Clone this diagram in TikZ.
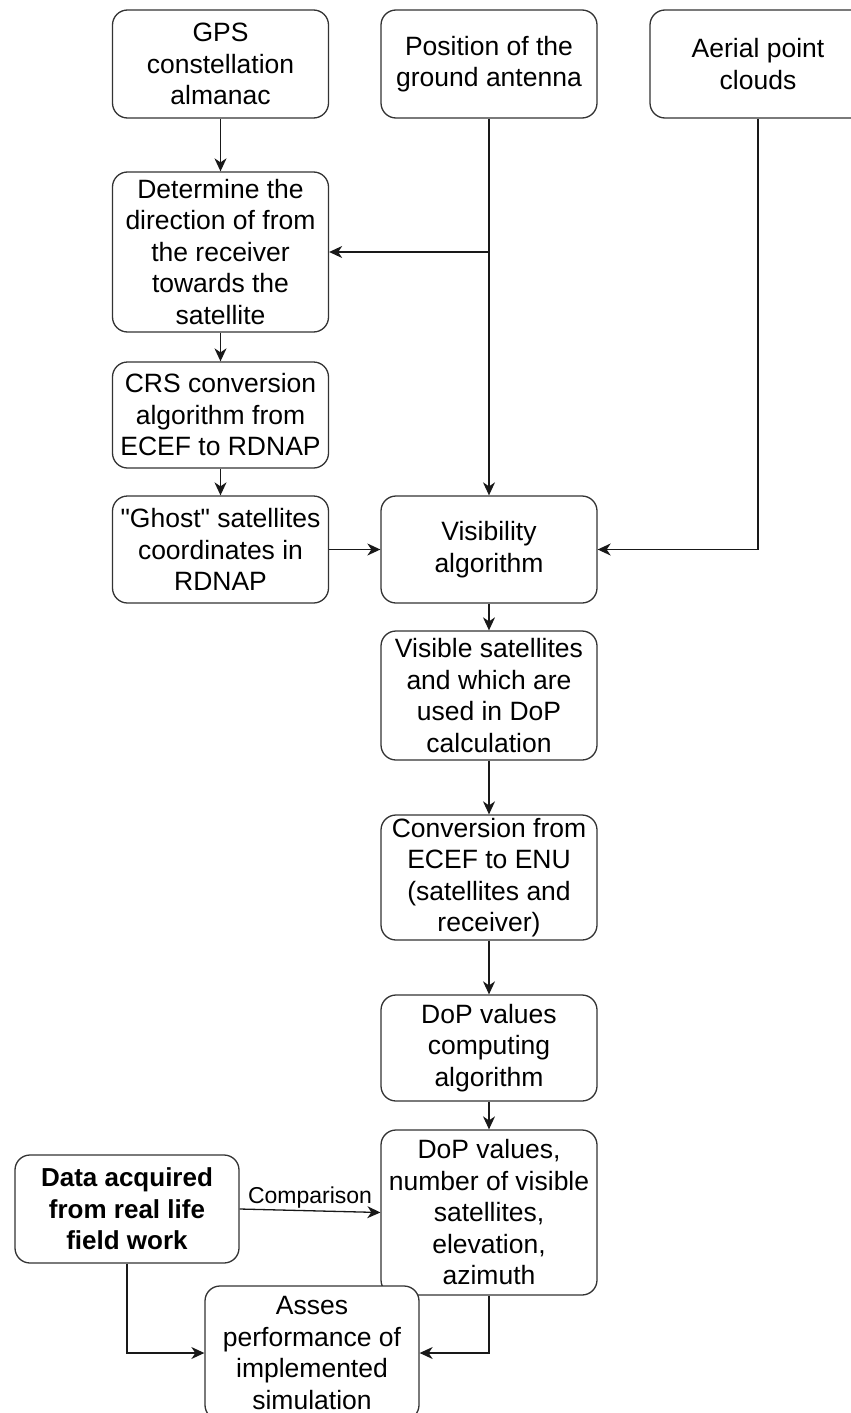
\documentclass[tikz,border=0pt]{standalone}
\usepackage{fontspec}
\setmainfont{Liberation Sans}[Ligatures=TeXReset]
\usetikzlibrary{arrows.meta}
\begin{document}
\begin{tikzpicture}[x=1pt,y=-1pt,
  box/.style={draw=black!80,line width=1.3pt,rounded corners=15pt,fill=white,
    align=center,inner sep=0pt,minimum width=216pt,
    font=\fontsize{26.5}{31.5}\selectfont},
  arr/.style={draw=black!90,line width=1.3pt,-{Stealth[length=13pt,width=12pt,inset=4pt]}},
  ln/.style={draw=black!90,line width=1.3pt}]
\useasboundingbox (0,0) rectangle (851,1413);
\node[box,minimum height=108pt] (gps) at (220.5,64) {GPS\\constellation\\almanac};
\node[box,minimum height=108pt] (pos) at (489,64) {Position of the\\ground antenna};
\node[box,minimum height=108pt] (aer) at (758,64) {Aerial point\\clouds};
\node[box,minimum height=160pt] (det) at (220.5,252) {Determine the\\direction of from\\the receiver\\towards the\\satellite};
\node[box,minimum height=106pt] (crs) at (220.5,415) {CRS conversion\\algorithm from\\ECEF to RDNAP};
\node[box,minimum height=107pt] (gho) at (220.5,549.5) {"Ghost" satellites\\coordinates in\\RDNAP};
\node[box,minimum height=107pt] (vis) at (489,549.5) {Visibility\\algorithm};
\node[box,minimum height=129pt] (vsat) at (489,695.5) {Visible satellites\\and which are\\used in DoP\\calculation};
\node[box,minimum height=125pt] (conv) at (489,877.5) {Conversion from\\ECEF to ENU\\(satellites and\\receiver)};
\node[box,minimum height=106pt] (dopc) at (489,1048) {DoP values\\computing\\algorithm};
\node[box,minimum height=165pt] (dopv) at (489,1212.5) {DoP values,\\number of visible\\satellites,\\elevation,\\azimuth};
\node[box,minimum width=224pt,minimum height=108pt,font=\fontsize{26}{31.5}\selectfont\bfseries] (data) at (127,1209) {Data acquired\\from real life\\field work};
\node[box,minimum width=214pt,minimum height=134pt] (ass) at (312,1353) {Asses\\performance of\\implemented\\simulation};
\coordinate (j1) at (pos.south |- det.east);
\draw[arr] (gps) -- (det);
\draw[arr] (pos.south) -- (vis.north);
\draw[arr] (j1) -- (det.east);
\draw[arr] (aer.south) |- (vis.east);
\draw[arr] (det) -- (crs);
\draw[arr] (crs) -- (gho);
\draw[arr] (gho) -- (vis);
\draw[arr] (vis) -- (vsat);
\draw[arr] (vsat) -- (conv);
\draw[arr] (conv) -- (dopc);
\draw[arr] (dopc) -- (dopv);
\draw[arr] (data.east) -- node[above,font=\fontsize{23}{27}\selectfont,inner sep=2pt] (cmp) {Comparison} (dopv.west);
\draw[arr] (data.south) |- (ass.west);
\draw[arr] (dopv.south) |- (ass.east);
\end{tikzpicture}
\end{document}
